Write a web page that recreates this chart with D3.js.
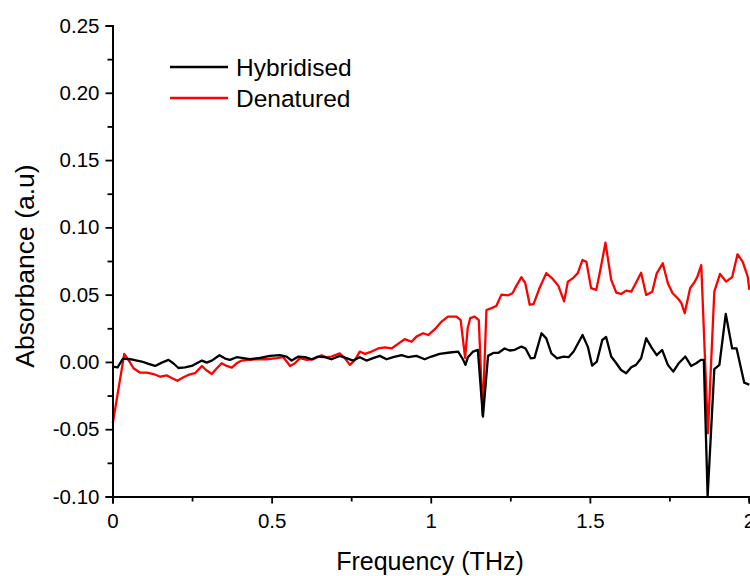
<!DOCTYPE html>
<html>
<head>
<meta charset="utf-8">
<script src="https://cdn.jsdelivr.net/npm/d3@7"></script>
<style>
  html, body { margin: 0; padding: 0; background: #fff; }
  svg { display: block; }
  text { font-family: "Liberation Sans", Arial, sans-serif; fill: #000; }
</style>
</head>
<body>
<svg id="chart" width="750" height="576"></svg>
<script>
// THz absorbance spectra, hybridised vs denatured sample
const hybFreq = [0.001,0.016,0.033,0.056,0.077,0.092,0.113,0.134,0.155,0.176,0.191,0.207,0.228,0.249,0.265,0.281,0.296,0.312,0.336,0.354,0.369,0.390,0.411,0.432,0.463,0.495,0.526,0.547,0.563,0.584,0.605,0.626,0.646,0.667,0.688,0.714,0.735,0.756,0.777,0.798,0.819,0.840,0.861,0.882,0.908,0.929,0.955,0.981,1.002,1.028,1.060,1.086,1.101,1.109,1.117,1.133,1.148,1.164,1.180,1.198,1.213,1.232,1.248,1.264,1.285,1.298,1.314,1.326,1.348,1.363,1.379,1.397,1.417,1.433,1.449,1.460,1.477,1.494,1.507,1.522,1.539,1.551,1.567,1.583,1.598,1.614,1.630,1.645,1.661,1.677,1.693,1.710,1.727,1.745,1.762,1.779,1.800,1.818,1.834,1.849,1.858,1.870,1.891,1.907,1.927,1.947,1.961,1.985,2.001];
const hybAbs = [-0.0035,-0.004,0.0025,0.002,0.001,0.0003,-0.0015,-0.003,-0.0005,0.0015,-0.001,-0.0045,-0.004,-0.003,-0.001,0.001,-0.0005,0.001,0.005,0.0025,0.0015,0.0035,0.0028,0.002,0.003,0.0045,0.005,0.004,0.001,0.004,0.0035,0.002,0.004,0.0035,0.002,0.0045,0.0028,0.001,0.0035,0.001,0.0028,0.0045,0.002,0.0035,0.005,0.0035,0.0045,0.002,0.004,0.006,0.007,0.0077,0.002,-0.0022,0.0035,0.0077,0.009,-0.0406,0.0045,0.0068,0.0068,0.010,0.0085,0.009,0.0114,0.010,0.0027,0.003,0.0213,0.0175,0.0064,0.0027,0.004,0.0035,0.0077,0.0126,0.020,0.011,-0.0027,0.0003,0.0163,0.0185,0.004,-0.001,-0.006,-0.0084,-0.004,-0.0022,0.0027,0.0176,0.011,0.005,0.0089,-0.0022,-0.0072,-0.001,0.004,-0.003,-0.001,0.0015,0.0015,-0.0998,-0.0054,-0.0022,0.0357,0.010,0.010,-0.0154,-0.017];

const denFreq = [0.001,0.037,0.050,0.066,0.087,0.108,0.129,0.150,0.171,0.186,0.204,0.223,0.238,0.259,0.281,0.294,0.312,0.328,0.343,0.359,0.375,0.390,0.406,0.427,0.453,0.484,0.516,0.537,0.558,0.573,0.589,0.610,0.631,0.657,0.673,0.688,0.714,0.730,0.746,0.762,0.777,0.793,0.814,0.835,0.856,0.877,0.897,0.918,0.940,0.955,0.976,0.992,1.013,1.034,1.054,1.081,1.094,1.108,1.116,1.124,1.138,1.151,1.163,1.175,1.191,1.206,1.222,1.243,1.257,1.269,1.285,1.297,1.311,1.323,1.342,1.363,1.384,1.401,1.419,1.431,1.448,1.462,1.477,1.489,1.504,1.520,1.533,1.549,1.567,1.583,1.598,1.614,1.630,1.645,1.661,1.677,1.696,1.710,1.729,1.745,1.760,1.776,1.787,1.798,1.815,1.828,1.838,1.850,1.871,1.891,1.909,1.928,1.947,1.964,1.980,1.996,2.001];
const denAbs = [-0.0455,0.006,0.0015,-0.0047,-0.008,-0.008,-0.009,-0.011,-0.010,-0.012,-0.014,-0.0114,-0.0097,-0.0084,-0.003,-0.006,-0.009,-0.0047,-0.001,-0.003,-0.0042,-0.001,0.001,0.0015,0.002,0.002,0.0028,0.0035,-0.003,-0.001,0.0028,0.0015,0.002,0.005,0.0035,0.004,0.0064,0.0027,-0.0022,0.0015,0.0077,0.006,0.0077,0.010,0.0109,0.010,0.0134,0.0169,0.015,0.0188,0.0213,0.020,0.0243,0.030,0.0337,0.0337,0.031,0.003,0.025,0.0325,0.0337,0.031,-0.0394,0.0386,0.040,0.0416,0.050,0.0495,0.051,0.0565,0.063,0.0585,0.0425,0.043,0.055,0.066,0.0615,0.0565,0.045,0.0597,0.0625,0.066,0.0758,0.0745,0.0548,0.0535,0.0685,0.0886,0.061,0.0515,0.0505,0.053,0.0522,0.0589,0.0663,0.0498,0.0522,0.0658,0.0733,0.0585,0.051,0.0473,0.044,0.0362,0.0548,0.059,0.0634,0.072,-0.053,0.0522,0.0654,0.0597,0.063,0.080,0.0745,0.0634,0.0535];

const seriesNames = ["Hybridised", "Denatured"];
const seriesColors = ["#000000", "#ff0000"];

const xTicks = [0, 0.5, 1, 1.5, 2];
const xTickLabels = ["0", "0.5", "1", "1.5", "2"];
const xMinorTicks = [0.25, 0.75, 1.25, 1.75];
const yTicks = [-0.10, -0.05, 0.00, 0.05, 0.10, 0.15, 0.20, 0.25];
const yTickLabels = ["-0.10", "-0.05", "0.00", "0.05", "0.10", "0.15", "0.20", "0.25"];
const yMinorTicks = [-0.075, -0.025, 0.025, 0.075, 0.125, 0.175, 0.225];

const svg = d3.select("#chart");
const plotLeft = 112.5, plotRight = 749, plotTop = 25.5, plotBottom = 496.5;

const x = d3.scaleLinear().domain([0, 2]).range([plotLeft, plotRight]);
const y = d3.scaleLinear().domain([-0.10, 0.25]).range([plotBottom, plotTop]);

// spectra: denatured first, hybridised drawn over it
const line = d3.line().x(d => x(d[0])).y(d => y(d[1]));
const series = [
  hybFreq.map((f, i) => [f, hybAbs[i]]),
  denFreq.map((f, i) => [f, denAbs[i]])
];
[1, 0].forEach(k => {
  svg.append("path")
    .datum(series[k])
    .attr("fill", "none")
    .attr("stroke", seriesColors[k])
    .attr("stroke-width", 2.3)
    .attr("stroke-linejoin", "round")
    .attr("d", line);
});

// axes with major and minor ticks
const xAxis = svg.append("g").attr("transform", `translate(0,${plotBottom})`)
  .call(d3.axisBottom(x).tickValues(xTicks).tickFormat((d, i) => xTickLabels[i]).tickSizeOuter(0).tickSize(7).tickPadding(10));
const xMinor = svg.append("g").attr("transform", `translate(0,${plotBottom})`)
  .call(d3.axisBottom(x).tickValues(xMinorTicks).tickFormat("").tickSizeOuter(0).tickSize(5));
const yAxis = svg.append("g").attr("transform", `translate(${plotLeft},0)`)
  .call(d3.axisLeft(y).tickValues(yTicks).tickFormat((d, i) => yTickLabels[i]).tickSizeOuter(0).tickSize(7).tickPadding(6));
const yMinor = svg.append("g").attr("transform", `translate(${plotLeft},0)`)
  .call(d3.axisLeft(y).tickValues(yMinorTicks).tickFormat("").tickSizeOuter(0).tickSize(5));

[xAxis, xMinor, yAxis, yMinor].forEach(g => {
  g.select(".domain").attr("stroke", "#000").attr("stroke-width", 2);
  g.selectAll(".tick line").attr("stroke", "#000").attr("stroke-width", 1.8);
  g.selectAll(".tick text")
    .attr("font-family", "'Liberation Sans', Arial, sans-serif")
    .attr("font-size", 20.5)
    .attr("fill", "#000");
});
xAxis.selectAll(".tick text").attr("dy", "0.71em");

// axis titles
svg.append("text")
  .attr("x", 430).attr("y", 570)
  .attr("text-anchor", "middle")
  .attr("font-size", 25)
  .text("Frequency (THz)");

svg.append("text")
  .attr("transform", `translate(34,266) rotate(-90)`)
  .attr("text-anchor", "middle")
  .attr("font-size", 26.5)
  .text("Absorbance (a.u)");

// legend
const legendY = [67, 98];
seriesNames.forEach((name, i) => {
  svg.append("line")
    .attr("x1", 170).attr("x2", 228)
    .attr("y1", legendY[i]).attr("y2", legendY[i])
    .attr("stroke", seriesColors[i]).attr("stroke-width", 2.3);
  svg.append("text")
    .attr("x", 236).attr("y", legendY[i])
    .attr("dy", "0.36em")
    .attr("font-size", 24.5)
    .text(name);
});
</script>
</body>
</html>
